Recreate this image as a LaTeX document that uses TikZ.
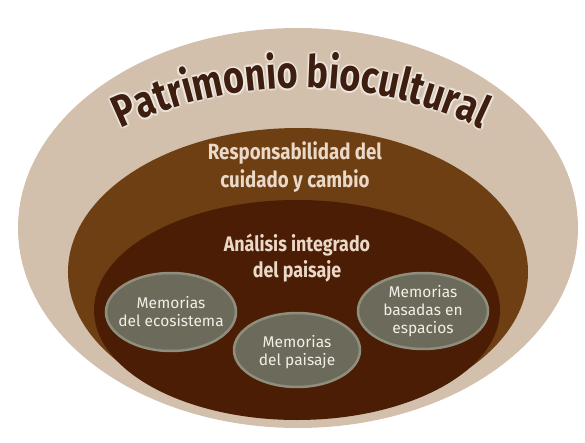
\documentclass[tikz,border=0pt]{standalone}
\usepackage{fontspec}
\setmainfont{Fira Sans}
\newfontfamily\narrowfont[FakeStretch=0.85]{Fira Sans}
\newfontfamily\titlefont[FakeStretch=0.8]{Fira Sans}
\usetikzlibrary{decorations.text}

\definecolor{beigeout}{HTML}{D3C0AC}
\definecolor{cafemedio}{HTML}{6F3F14}
\definecolor{cafeoscuro}{HTML}{4A1D04}
\definecolor{grisfill}{HTML}{6C6A5A}
\definecolor{grisborde}{HTML}{8F8D7C}
\definecolor{textocafe}{HTML}{EAD9C8}
\definecolor{textogris}{HTML}{F2EFE8}
\definecolor{titulo}{HTML}{3E1E0E}

\begin{document}
\begin{tikzpicture}[x=1pt,y=1pt,
  memoria/.style={fill=grisfill,draw=grisborde,line width=2.5pt},
  memtext/.style={text=textogris,align=center,font=\fontsize{15.5}{18}\selectfont},
  cafetext/.style={text=textocafe,align=center,font=\narrowfont\bfseries\fontsize{22}{28}\selectfont}]
	\useasboundingbox (0,0) rectangle (585,442);
	% capas
	\fill[beigeout] (298,214) ellipse [x radius=280, y radius=200];
	\fill[cafemedio] (298,170) ellipse [x radius=230, y radius=144];
	\fill[cafeoscuro] (297,132) ellipse [x radius=203, y radius=110];
	% titulo en arco, con brillo
	\begin{scope}[opacity=0.3]
	\foreach \dx/\dy in {2/0,-2/0,0/2,0/-2,1.5/1.5,-1.5/1.5,1.5/-1.5,-1.5/-1.5}
		\path[decorate,decoration={text along path,text align=center,text color=white,
			text={|\titlefont\bfseries\fontsize{45}{45}\selectfont|Patrimonio biocultural}}]
			([shift={(\dx,\dy)}]301,-66) ++(130:420) arc[start angle=130,end angle=50,radius=420];
	\end{scope}
	\path[decorate,decoration={text along path,text align=center,text color=titulo,
		text={|\titlefont\bfseries\fontsize{45}{45}\selectfont|Patrimonio biocultural}}]
		(301,-66) ++(130:420) arc[start angle=130,end angle=50,radius=420];
	% memorias
	\draw[memoria] (171,130) ellipse [x radius=65, y radius=39];
	\draw[memoria] (297,92) ellipse [x radius=63, y radius=37];
	\draw[memoria] (423,131) ellipse [x radius=65, y radius=38];
	\node[cafetext] (resp) at (295,275) {Responsabilidad del\\cuidado y cambio};
	\node[cafetext,font=\narrowfont\bfseries\fontsize{21}{26}\selectfont] (analisis) at (297,184) {Análisis integrado\\del paisaje};
	\node[memtext] (ecosistema) at (171,130) {Memorias\\del ecosistema};
	\node[memtext] (paisaje) at (297,90) {Memorias\\del paisaje};
	\node[memtext] (espacios) at (423,131) {Memorias\\basadas en\\espacios};
\end{tikzpicture}
\end{document}
